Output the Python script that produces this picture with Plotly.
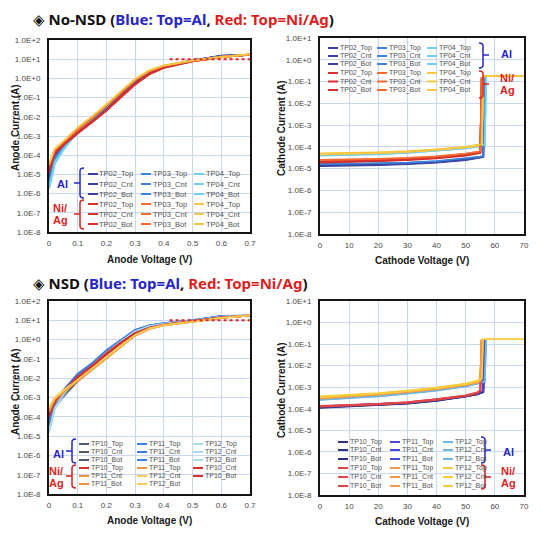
import plotly.graph_objects as go

# The page body has an 8 px default margin, so the figure is drawn 8 px smaller
# and every layout position below is given in window pixels minus that offset.
PAGE_OFFSET = 8
FIG_W, FIG_H = 541 - PAGE_OFFSET, 539 - PAGE_OFFSET

# ---------------- data ----------------
anode_voltage = [0, 0.02, 0.05, 0.1, 0.15, 0.2, 0.25, 0.3, 0.35, 0.4, 0.5, 0.6, 0.7]
cathode_voltage = [0, 10, 20, 30, 40, 50, 54, 55, 55.5, 56, 56.5, 57, 70]

nonsd_names = ["TP02_Top", "TP03_Top", "TP04_Top", "TP02_Cnt", "TP03_Cnt", "TP04_Cnt",
               "TP02_Bot", "TP03_Bot", "TP04_Bot"]
nsd_names = ["TP10_Top", "TP11_Top", "TP12_Top", "TP10_Cnt", "TP11_Cnt", "TP12_Cnt",
             "TP10_Bot", "TP11_Bot", "TP12_Bot"]
nsd_anode_niag_names = ["TP10_Top", "TP11_Top", "TP10_Cnt", "TP11_Cnt", "TP12_Cnt",
                        "TP10_Bot", "TP11_Bot", "TP12_Bot"]

# No-NSD, anode forward current (A)
nonsd_anode_al = [
    [6e-6, 8e-5, 3.0e-4, 1.5e-3, 6.0e-3, 2.5e-2, 0.13, 0.60, 2.0, 4.0, 8.5, 15.5, 17.5],
    [3e-6, 6e-5, 2.5e-4, 1.6e-3, 7.0e-3, 3.0e-2, 0.16, 0.75, 2.3, 4.3, 8.7, 14.0, 17.5],
    [2e-6, 4e-5, 2.0e-4, 1.8e-3, 8.0e-3, 3.5e-2, 0.18, 0.85, 2.5, 4.5, 8.5, 13.5, 17.0],
    [5e-6, 7e-5, 2.8e-4, 1.4e-3, 5.5e-3, 2.2e-2, 0.12, 0.55, 1.9, 3.9, 8.3, 15.0, 17.5],
    [2.5e-6, 5e-5, 2.3e-4, 1.5e-3, 6.5e-3, 2.9e-2, 0.15, 0.70, 2.2, 4.2, 8.6, 14.5, 17.5],
    [1.8e-6, 3.5e-5, 1.9e-4, 1.7e-3, 7.8e-3, 3.4e-2, 0.17, 0.82, 2.45, 4.4, 8.4, 13.5, 17.0],
    [7e-6, 9e-5, 3.2e-4, 1.6e-3, 6.5e-3, 2.7e-2, 0.14, 0.65, 2.1, 4.1, 8.6, 15.0, 17.0],
    [4e-6, 7e-5, 2.7e-4, 1.7e-3, 7.5e-3, 3.2e-2, 0.17, 0.80, 2.4, 4.4, 8.8, 14.0, 17.0],
    [2.2e-6, 4.5e-5, 2.1e-4, 1.9e-3, 8.3e-3, 3.6e-2, 0.19, 0.88, 2.55, 4.5, 8.5, 13.5, 17.0],
]
nonsd_anode_niag = [
    [1.5e-5, 1.3e-4, 3.5e-4, 1.5e-3, 5.5e-3, 2.2e-2, 0.11, 0.50, 1.7, 3.6, 7.8, 13.0, 17.5],
    [2.5e-5, 1.8e-4, 4.5e-4, 2.2e-3, 9.0e-3, 3.8e-2, 0.18, 0.80, 2.4, 4.3, 8.2, 13.0, 17.5],
    [3.0e-5, 2.0e-4, 5.0e-4, 2.6e-3, 1.0e-2, 4.2e-2, 0.20, 0.90, 2.6, 4.6, 8.4, 13.0, 18.0],
    [1.3e-5, 1.2e-4, 3.3e-4, 1.4e-3, 5.2e-3, 2.1e-2, 0.10, 0.48, 1.65, 3.5, 7.7, 13.0, 17.5],
    [2.2e-5, 1.7e-4, 4.3e-4, 2.1e-3, 8.7e-3, 3.6e-2, 0.17, 0.78, 2.35, 4.2, 8.1, 13.0, 17.5],
    [2.8e-5, 1.9e-4, 4.8e-4, 2.5e-3, 9.8e-3, 4.1e-2, 0.19, 0.88, 2.55, 4.5, 8.3, 13.0, 18.0],
    [1.7e-5, 1.4e-4, 3.7e-4, 1.6e-3, 5.8e-3, 2.3e-2, 0.12, 0.52, 1.75, 3.7, 7.9, 13.0, 17.5],
    [2.8e-5, 1.9e-4, 4.7e-4, 2.3e-3, 9.3e-3, 4.0e-2, 0.19, 0.82, 2.45, 4.4, 8.3, 13.0, 17.5],
    [3.3e-5, 2.1e-4, 5.2e-4, 2.7e-3, 1.05e-2, 4.4e-2, 0.21, 0.92, 2.65, 4.7, 8.5, 13.0, 18.0],
]

# NSD, anode forward current (A)
nsd_anode_al = [
    [2e-5, 3e-4, 1.1e-3, 7.0e-3, 3.0e-2, 0.14, 0.55, 1.9, 4.0, 6.0, 9.5, 16.0, 17.5],
    [4e-5, 6e-4, 2.0e-3, 1.5e-2, 5.5e-2, 0.26, 0.90, 3.0, 5.3, 7.0, 10.0, 16.5, 17.5],
    [1.5e-5, 2.5e-4, 1.2e-3, 9.0e-3, 4.0e-2, 0.19, 0.75, 2.5, 4.8, 6.6, 9.6, 15.5, 17.5],
    [2.5e-5, 3.5e-4, 1.2e-3, 7.5e-3, 3.2e-2, 0.15, 0.58, 2.0, 4.1, 6.1, 9.5, 16.0, 17.5],
    [5e-5, 7e-4, 2.2e-3, 1.6e-2, 5.8e-2, 0.27, 0.92, 3.1, 5.4, 7.1, 10.0, 16.5, 17.5],
    [1.8e-5, 2.8e-4, 1.3e-3, 9.5e-3, 4.2e-2, 0.20, 0.78, 2.6, 4.9, 6.7, 9.6, 15.5, 17.5],
    [3e-5, 4e-4, 1.3e-3, 8.0e-3, 3.4e-2, 0.16, 0.60, 2.1, 4.2, 6.2, 9.6, 16.0, 17.5],
    [6e-5, 8e-4, 2.4e-3, 1.7e-2, 6.0e-2, 0.28, 0.95, 3.2, 5.5, 7.2, 10.1, 17.0, 17.5],
    [2e-5, 3e-4, 1.4e-3, 1.0e-2, 4.4e-2, 0.21, 0.80, 2.7, 5.0, 6.8, 9.7, 15.5, 17.5],
]
nsd_anode_niag = [
    [1.5e-4, 8e-4, 2.2e-3, 1.2e-2, 4.5e-2, 0.20, 0.70, 2.2, 4.2, 6.0, 9.0, 14.0, 17.5],
    [2.5e-4, 9e-4, 2.0e-3, 8.0e-3, 3.0e-2, 0.12, 0.48, 1.7, 3.8, 5.6, 8.5, 13.5, 18.0],
    [1.2e-4, 7e-4, 2.0e-3, 1.1e-2, 4.2e-2, 0.19, 0.68, 2.1, 4.1, 5.9, 9.0, 14.0, 17.5],
    [2.0e-4, 8.5e-4, 1.9e-3, 7.5e-3, 2.8e-2, 0.11, 0.45, 1.65, 3.7, 5.5, 8.4, 13.5, 18.0],
    [3.0e-4, 1.0e-3, 2.3e-3, 9.0e-3, 3.3e-2, 0.13, 0.50, 1.8, 3.9, 5.7, 8.6, 13.5, 18.0],
    [1.0e-4, 6e-4, 1.9e-3, 1.05e-2, 4.0e-2, 0.18, 0.66, 2.05, 4.0, 5.8, 8.9, 14.0, 17.5],
    [1.8e-4, 8e-4, 1.8e-3, 7.0e-3, 2.6e-2, 0.11, 0.44, 1.6, 3.6, 5.4, 8.3, 13.5, 18.0],
    [2.8e-4, 9.5e-4, 2.2e-3, 8.5e-3, 3.1e-2, 0.125, 0.49, 1.75, 3.85, 5.6, 8.5, 13.5, 18.0],
]

# No-NSD, cathode reverse current (A)
nonsd_cathode_al = [
    [1.40e-5, 1.45e-5, 1.55e-5, 1.70e-5, 2.00e-5, 2.60e-5, 3.10e-5, 3.30e-5, 3.40e-5, 3.50e-5, 0.15, None, None],
    [1.55e-5, 1.60e-5, 1.70e-5, 1.85e-5, 2.15e-5, 2.80e-5, 3.30e-5, 3.50e-5, 3.60e-5, 3.70e-5, 0.16, None, None],
    [4.20e-5, 4.40e-5, 4.80e-5, 5.50e-5, 6.70e-5, 8.90e-5, 1.04e-4, 1.10e-4, 1.14e-4, 1.18e-4, 1.20e-4, 0.16, None],
    [1.30e-5, 1.35e-5, 1.45e-5, 1.60e-5, 1.90e-5, 2.50e-5, 3.00e-5, 3.20e-5, 3.30e-5, 3.40e-5, 0.15, None, None],
    [1.50e-5, 1.55e-5, 1.65e-5, 1.80e-5, 2.10e-5, 2.70e-5, 3.20e-5, 3.40e-5, 3.50e-5, 3.60e-5, 0.155, None, None],
    [4.00e-5, 4.20e-5, 4.60e-5, 5.30e-5, 6.50e-5, 8.60e-5, 1.00e-4, 1.06e-4, 1.10e-4, 1.14e-4, 1.16e-4, 0.16, None],
    [1.45e-5, 1.50e-5, 1.60e-5, 1.75e-5, 2.05e-5, 2.70e-5, 3.20e-5, 3.40e-5, 3.50e-5, 3.60e-5, 0.15, None, None],
    [1.60e-5, 1.65e-5, 1.75e-5, 1.90e-5, 2.20e-5, 2.90e-5, 3.40e-5, 3.60e-5, 3.70e-5, 3.80e-5, 0.16, None, None],
    [4.40e-5, 4.60e-5, 5.00e-5, 5.70e-5, 6.90e-5, 9.20e-5, 1.07e-4, 1.13e-4, 1.17e-4, 1.21e-4, 1.23e-4, 0.165, None],
]
nonsd_cathode_niag = [
    [2.00e-5, 2.10e-5, 2.30e-5, 2.60e-5, 3.10e-5, 4.20e-5, 5.00e-5, 5.50e-5, 0.15, None, None, None, None],
    [2.40e-5, 2.50e-5, 2.70e-5, 3.00e-5, 3.60e-5, 4.80e-5, 5.60e-5, 6.00e-5, 0.15, None, None, None, None],
    [4.80e-5, 5.00e-5, 5.40e-5, 6.10e-5, 7.40e-5, 9.80e-5, 1.15e-4, 1.25e-4, 1.30e-4, 0.17, None, None, None],
    [1.90e-5, 2.00e-5, 2.20e-5, 2.50e-5, 3.00e-5, 4.00e-5, 4.80e-5, 5.30e-5, 0.14, None, None, None, None],
    [2.30e-5, 2.40e-5, 2.60e-5, 2.90e-5, 3.50e-5, 4.60e-5, 5.40e-5, 5.80e-5, 0.15, None, None, None, None],
    [4.60e-5, 4.80e-5, 5.20e-5, 5.90e-5, 7.20e-5, 9.50e-5, 1.12e-4, 1.22e-4, 1.27e-4, 0.17, None, None, None],
    [2.10e-5, 2.20e-5, 2.40e-5, 2.70e-5, 3.20e-5, 4.30e-5, 5.10e-5, 5.60e-5, 0.15, None, None, None, None],
    [2.50e-5, 2.60e-5, 2.80e-5, 3.10e-5, 3.70e-5, 4.90e-5, 5.70e-5, 6.20e-5, 0.16, None, None, None, None],
    [5.00e-5, 5.20e-5, 5.60e-5, 6.30e-5, 7.60e-5, 1.00e-4, 1.18e-4, 1.28e-4, 1.33e-4, 0.18, 0.18, 0.18, 0.18],
]

# NSD, cathode reverse current (A)
nsd_cathode_al = [
    [1.15e-4, 1.30e-4, 1.50e-4, 1.80e-4, 2.40e-4, 3.70e-4, 4.80e-4, 5.60e-4, 5.80e-4, 6.00e-4, 0.16, None, None],
    [1.25e-4, 1.40e-4, 1.60e-4, 1.90e-4, 2.60e-4, 3.90e-4, 5.10e-4, 6.00e-4, 6.20e-4, 6.40e-4, 0.16, None, None],
    [2.60e-4, 3.10e-4, 3.80e-4, 5.00e-4, 7.00e-4, 1.10e-3, 1.40e-3, 1.60e-3, 1.65e-3, 1.70e-3, 1.75e-3, 0.17, None],
    [1.10e-4, 1.25e-4, 1.45e-4, 1.75e-4, 2.30e-4, 3.60e-4, 4.60e-4, 5.40e-4, 5.60e-4, 5.80e-4, 0.15, None, None],
    [1.20e-4, 1.35e-4, 1.55e-4, 1.85e-4, 2.50e-4, 3.80e-4, 5.00e-4, 5.80e-4, 6.00e-4, 6.20e-4, 0.16, None, None],
    [2.80e-4, 3.30e-4, 4.00e-4, 5.30e-4, 7.40e-4, 1.15e-3, 1.50e-3, 1.70e-3, 1.75e-3, 1.80e-3, 1.85e-3, 0.17, None],
    [1.20e-4, 1.35e-4, 1.55e-4, 1.85e-4, 2.50e-4, 3.80e-4, 4.90e-4, 5.70e-4, 5.90e-4, 6.10e-4, 0.16, None, None],
    [1.30e-4, 1.45e-4, 1.65e-4, 1.95e-4, 2.70e-4, 4.00e-4, 5.30e-4, 6.20e-4, 6.40e-4, 6.60e-4, 0.16, None, None],
    [2.70e-4, 3.20e-4, 3.90e-4, 5.20e-4, 7.20e-4, 1.12e-3, 1.45e-3, 1.65e-3, 1.70e-3, 1.75e-3, 1.80e-3, 0.17, None],
]
nsd_cathode_niag = [
    [1.30e-4, 1.45e-4, 1.65e-4, 2.00e-4, 2.70e-4, 4.10e-4, 5.50e-4, 7.00e-4, 0.15, None, None, None, None],
    [3.40e-4, 4.00e-4, 4.90e-4, 6.40e-4, 8.80e-4, 1.35e-3, 1.80e-3, 2.20e-3, 0.16, None, None, None, None],
    [3.60e-4, 4.20e-4, 5.10e-4, 6.70e-4, 9.20e-4, 1.40e-3, 1.90e-3, 2.40e-3, 0.17, None, None, None, None],
    [1.25e-4, 1.40e-4, 1.60e-4, 1.95e-4, 2.60e-4, 4.00e-4, 5.30e-4, 6.80e-4, 0.15, None, None, None, None],
    [3.20e-4, 3.80e-4, 4.70e-4, 6.10e-4, 8.40e-4, 1.30e-3, 1.70e-3, 2.10e-3, 0.16, None, None, None, None],
    [3.80e-4, 4.40e-4, 5.30e-4, 7.00e-4, 9.60e-4, 1.45e-3, 2.00e-3, 2.60e-3, 0.17, None, None, None, None],
    [1.35e-4, 1.50e-4, 1.70e-4, 2.05e-4, 2.80e-4, 4.20e-4, 5.70e-4, 7.20e-4, 0.15, None, None, None, None],
    [3.00e-4, 3.60e-4, 4.50e-4, 5.90e-4, 8.10e-4, 1.25e-3, 1.65e-3, 2.00e-3, 0.16, None, None, None, None],
    [3.50e-4, 4.10e-4, 5.00e-4, 6.60e-4, 9.00e-4, 1.38e-3, 1.85e-3, 2.30e-3, 2.40e-3, 0.17, 0.17, 0.17, 0.17],
]

# compliance limit marker (A) on the anode plots
compliance_voltage = [0.42, 0.7]
compliance_current = [10, 10]

anode_tickvals = [1e-8, 1e-7, 1e-6, 1e-5, 1e-4, 1e-3, 1e-2, 1e-1, 1e0, 1e1, 1e2]
anode_ticktext = ["1.0E-8", "1.0E-7", "1.0E-6", "1.0E-5", "1.0E-4", "1.0E-3",
                  "1.0E-2", "1.0E-1", "1.0E+0", "1.0E+1", "1.0E+2"]
cathode_tickvals = anode_tickvals[:-1]
cathode_ticktext = anode_ticktext[:-1]

# ---------------- styles ----------------
nonsd_al_colors = {"TP02": "#3b3fa0", "TP03": "#3d85d8", "TP04": "#6fd0ee"}
nonsd_niag_colors = {"TP02": "#d6312f", "TP03": "#f26b32", "TP04": "#f7c744"}
nsd_anode_al_colors = {"TP10": "#555b6b", "TP11": "#3f7fdc", "TP12": "#a8dcf0"}
nsd_anode_niag_colors = {"TP10": "#d63030", "TP11": "#f0913c", "TP12": "#f5cf55"}
nsd_cath_al_colors = {"TP10": "#2f337f", "TP11": "#4b48dc", "TP12": "#6db6e6"}
nsd_cath_niag_colors = {"TP10": "#e04444", "TP11": "#f59a46", "TP12": "#f7cc3a"}

BLUE_TXT = "#2626c8"
RED_TXT = "#dc1e1e"
FONT = "Liberation Sans, Arial, sans-serif"


def px(x):
    return (x - PAGE_OFFSET) / FIG_W


def py(y):
    return 1 - (y - PAGE_OFFSET) / FIG_H


fig = go.Figure()
shapes = []
annotations = []

panels = [
    ("", anode_voltage, nonsd_anode_al, nonsd_anode_niag, nonsd_names, nonsd_names,
     nonsd_al_colors, nonsd_niag_colors),
    ("2", cathode_voltage, nonsd_cathode_al, nonsd_cathode_niag, nonsd_names, nonsd_names,
     nonsd_al_colors, nonsd_niag_colors),
    ("3", anode_voltage, nsd_anode_al, nsd_anode_niag, nsd_names, nsd_anode_niag_names,
     nsd_anode_al_colors, nsd_anode_niag_colors),
    ("4", cathode_voltage, nsd_cathode_al, nsd_cathode_niag, nsd_names, nsd_names,
     nsd_cath_al_colors, nsd_cath_niag_colors),
]

# legend layout per panel (window-pixel positions of swatch columns and rows)
legend_geo = {
    "": dict(cols=[88, 141, 194], rows=[174, 184, 194, 204, 214, 224], fs=7.5),
    "2": dict(cols=[328, 377, 427], rows=[48, 56, 64, 73, 81.5, 90], fs=7),
    "3": dict(cols=[79, 137, 193], rows=[444, 452, 460, 468, 476, 484], fs=7),
    "4": dict(cols=[338, 390, 443], rows=[442, 450, 459, 468, 477, 486], fs=7),
}

for suffix, xs, al, niag, al_names, niag_names, al_cols, niag_cols in panels:
    xa = "x" + suffix
    ya = "y" + suffix
    geo = legend_geo[suffix]
    entries = []
    for k, (name, ys) in enumerate(zip(al_names, al)):
        c = al_cols[name[:4]]
        entries.append((0 + k // 3, k % 3, name, c))
        fig.add_trace(go.Scatter(x=xs, y=ys, name=name + " (Al)", mode="lines",
                                 line=dict(color=c, width=1.8), xaxis=xa, yaxis=ya,
                                 showlegend=False, connectgaps=False))
    for k, (name, ys) in enumerate(zip(niag_names, niag)):
        c = niag_cols[name[:4]]
        entries.append((3 + k // 3, k % 3, name, c))
        fig.add_trace(go.Scatter(x=xs, y=ys, name=name + " (Ni/Ag)", mode="lines",
                                 line=dict(color=c, width=1.8), xaxis=xa, yaxis=ya,
                                 showlegend=False, connectgaps=False))
    if suffix in ("", "3"):
        fig.add_trace(go.Scatter(x=compliance_voltage, y=compliance_current, mode="lines",
                                 name="Compliance", line=dict(color="#e02828", width=2, dash="dot"),
                                 xaxis=xa, yaxis=ya, showlegend=False))
    for r, ccol, name, color in entries:
        x0 = geo["cols"][ccol]
        y = geo["rows"][r]
        shapes.append(dict(type="line", xref="paper", yref="paper",
                           x0=px(x0), x1=px(x0 + 10), y0=py(y), y1=py(y),
                           line=dict(color=color, width=2)))
        annotations.append(dict(text=name, x=px(x0 + 10.5), y=py(y), xref="paper", yref="paper",
                                xanchor="left", yanchor="middle", showarrow=False, borderpad=0,
                                font=dict(family=FONT, size=geo["fs"], color="#505050")))


# brackets
def bracket(xv, y0, y1, ym, side, color):
    # side = -1 : tips point right, tick points left  ( "{" )
    # side = +1 : tips point left, tick points right ( "}" )
    tip = -side * 4
    tick = side * 6
    p = (f"M {px(xv + tip)},{py(y0)} Q {px(xv)},{py(y0)} {px(xv)},{py(y0 + 3)} "
         f"L {px(xv)},{py(y1 - 3)} Q {px(xv)},{py(y1)} {px(xv + tip)},{py(y1)} "
         f"M {px(xv)},{py(ym)} L {px(xv + tick)},{py(ym)}")
    shapes.append(dict(type="path", xref="paper", yref="paper", path=p,
                       line=dict(color=color, width=1.5)))


def label(text, x, y, color, size=11):
    annotations.append(dict(text="<b>" + text + "</b>", x=px(x), y=py(y), xref="paper",
                            yref="paper", xanchor="center", yanchor="middle", showarrow=False,
                            borderpad=0, font=dict(family=FONT, size=size, color=color)))


# top-left
bracket(80, 168, 198, 183, -1, BLUE_TXT)
bracket(80, 200, 229, 214, -1, RED_TXT)
label("Al", 62, 184, BLUE_TXT)
label("Ni/", 60, 208, RED_TXT)
label("Ag", 60, 219.5, RED_TXT)
# top-right
bracket(483, 43, 68, 55, 1, BLUE_TXT)
bracket(483, 71, 98, 84, 1, RED_TXT)
label("Al", 506, 54, BLUE_TXT)
label("Ni/", 507, 78, RED_TXT)
label("Ag", 507, 90, RED_TXT)
# bottom-left
bracket(72, 439, 463, 451, -1, BLUE_TXT)
bracket(72, 465, 488, 476, -1, RED_TXT)
label("Al", 58, 454, BLUE_TXT)
label("Ni/", 56, 471, RED_TXT)
label("Ag", 56, 483, RED_TXT)
# bottom-right
bracket(485, 437, 463, 450, 1, BLUE_TXT)
bracket(485, 465, 489, 477, 1, RED_TXT)
label("Al", 508, 452, BLUE_TXT)
label("Ni/", 508, 471, RED_TXT)
label("Ag", 508, 483, RED_TXT)

# titles
for txt, y in [("No-NSD", 19), ("NSD", 283)]:
    annotations.append(dict(
        text=(f"<b>◈ {txt} (<span style='color:{BLUE_TXT}'>Blue: Top=Al</span>, "
              f"<span style='color:{RED_TXT}'>Red: Top=Ni/Ag</span>)</b>"),
        x=px(31), y=py(y), xref="paper", yref="paper", xanchor="left", yanchor="middle",
        showarrow=False, font=dict(family="Noto Sans, DejaVu Sans", size=15, color="#111111")))

# axis titles
for txt, x, y, ang in [
    ("Anode Voltage (V)", 149.5, 259, 0), ("Cathode Voltage (V)", 422, 260, 0),
    ("Anode Voltage (V)", 149.5, 520, 0), ("Cathode Voltage (V)", 422, 521, 0),
    ("Anode Current (A)", 15, 128, -90), ("Cathode Current (A)", 281, 128, -90),
    ("Anode Current (A)", 15, 392, -90), ("Cathode Current (A)", 281, 390, -90),
]:
    annotations.append(dict(text="<b>" + txt + "</b>", x=px(x), y=py(y), xref="paper",
                            yref="paper", xanchor="center", yanchor="middle", showarrow=False,
                            borderpad=0, textangle=ang,
                            font=dict(family=FONT, size=10, color="#1a1a1a")))

common = dict(showline=True, linecolor="#151515", linewidth=2, mirror=True,
              showgrid=True, gridcolor="#c9d8f0", gridwidth=1, zeroline=False, ticks="",
              automargin=False,
              tickfont=dict(family=FONT, size=8, color="#474747"))

# domains from window-pixel geometry
dom = {
    "": ([49, 250], [40, 232]),
    "2": ([320, 524], [38, 234]),
    "3": ([49, 250], [301, 494]),
    "4": ([320, 524], [301, 495]),
}
layout_axes = {}
for suffix, (xr, yr) in dom.items():
    is_anode = suffix in ("", "3")
    xd = [px(xr[0]), px(xr[1])]
    yd = [py(yr[1]), py(yr[0])]
    layout_axes["xaxis" + suffix] = dict(
        common, domain=xd, anchor="y" + suffix,
        range=[0, 0.7] if is_anode else [0, 70],
        tickmode="linear", tick0=0, dtick=0.1 if is_anode else 10,
        ticklabelstandoff=2)
    layout_axes["yaxis" + suffix] = dict(
        common, domain=yd, anchor="x" + suffix, type="log",
        range=[-8, 2] if is_anode else [-8, 1],
        tickvals=anode_tickvals if is_anode else cathode_tickvals,
        ticktext=anode_ticktext if is_anode else cathode_ticktext,
        ticklabelstandoff=5)

fig.update_layout(
    width=FIG_W, height=FIG_H,
    margin=dict(l=0, r=0, t=0, b=0, autoexpand=False),
    paper_bgcolor="white", plot_bgcolor="white",
    showlegend=False,
    shapes=shapes, annotations=annotations,
    **layout_axes,
)

fig.write_html("out.html")
